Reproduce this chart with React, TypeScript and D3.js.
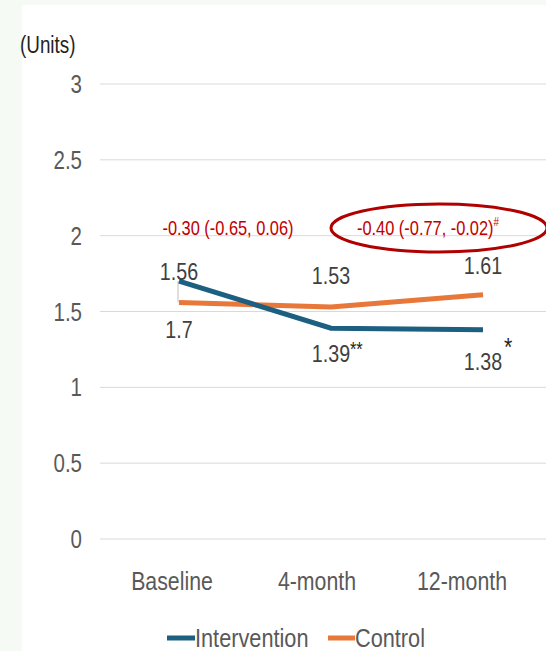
import { scalePoint, scaleLinear, line } from "d3";
import type { ReactNode } from "react";

const categories = ["Baseline", "4-month", "12-month"];
const intervention = [1.7, 1.39, 1.38];
const control = [1.56, 1.53, 1.61];
const yTicks = [0, 0.5, 1, 1.5, 2, 2.5, 3];
// labels as printed on the original figure
const interventionLabels = ["1.7", "1.39", "1.38"];
const interventionMarks = ["", "**", "*"];
const controlLabels = ["1.56", "1.53", "1.61"];
const diffLabels = ["-0.30 (-0.65, 0.06)", "-0.40 (-0.77, -0.02)"];
const diffMarks = ["", "#"];

const W = 546;
const H = 651;
const font = "'Liberation Sans', Arial, sans-serif";
const blue = "#1d5f80";
const orange = "#e8773a";
const red = "#c00000";
const grey = "#595959";
const squeeze = 0.82;

// narrow text: Liberation Sans squeezed horizontally
const T = (p: {
  x: number;
  y: number;
  size: number;
  fill?: string;
  anchor?: "start" | "middle" | "end";
  children: ReactNode;
}) => (
  <text
    transform={`translate(${p.x},${p.y}) scale(${squeeze},1)`}
    textAnchor={p.anchor ?? "start"}
    fontSize={p.size}
    fill={p.fill ?? grey}
  >
    {p.children}
  </text>
);

export default function App() {
  const y = scaleLinear().domain([0, 3]).range([539, 84]);
  const x = scalePoint<string>().domain(categories).range([179, 483]);
  const xLab = scalePoint<string>().domain(categories).range([172, 462]);
  const diffX = scalePoint<number>().domain([0, 1]).range([228, 428]);

  const path = line<number>()
    .x((_, i) => x(categories[i])!)
    .y((d) => y(d));

  return (
    <svg
      width={W}
      height={H}
      style={{ position: "absolute", left: 0, top: 0, fontFamily: font }}
    >
      <rect width={W} height={H} fill="#f5faf5" />
      <rect x={22} y={5} width={W - 22} height={H - 5} fill="#fff" />

      <T x={20} y={53} size={23} fill="#222">
        (Units)
      </T>

      {yTicks.map((t) => (
        <g key={t}>
          <line x1={100} x2={W} y1={y(t)} y2={y(t)} stroke="#d9d9d9" strokeWidth={1} />
          <T x={82} y={y(t) + 9} size={25} anchor="end">
            {t}
          </T>
        </g>
      ))}

      {categories.map((c) => (
        <T key={c} x={xLab(c)!} y={590} size={26} anchor="middle">
          {c}
        </T>
      ))}

      {/* leader line at baseline */}
      <line
        x1={x(categories[0])! - 1}
        x2={x(categories[0])! - 1}
        y1={y(intervention[0])}
        y2={y(control[0])}
        stroke="#bfbfbf"
        strokeWidth={1}
      />

      <path d={path(control)!} fill="none" stroke={orange} strokeWidth={5} />
      <path d={path(intervention)!} fill="none" stroke={blue} strokeWidth={5} />

      {controlLabels.map((l, i) => (
        <T
          key={"c" + i}
          x={x(categories[i])!}
          y={i === 2 ? 274 : i === 0 ? 280 : 284}
          size={24}
          fill="#404040"
          anchor="middle"
        >
          {l}
        </T>
      ))}

      {interventionLabels.map((l, i) => (
        <g key={"i" + i}>
          <T
            x={x(categories[i])!}
            y={i === 0 ? 338 : i === 1 ? 362 : 370}
            size={24}
            fill="#404040"
            anchor="middle"
          >
            {l}
          </T>
          {interventionMarks[i] && (
            <T
              x={x(categories[i])! + (i === 1 ? 19 : 21)}
              y={i === 1 ? 356 : 356}
              size={i === 1 ? 20 : 26}
              fill="#222"
            >
              {interventionMarks[i]}
            </T>
          )}
        </g>
      ))}

      {diffLabels.map((l, i) => (
        <T key={"d" + i} x={diffX(i)!} y={235} size={20} fill={red} anchor="middle">
          {l}
          {diffMarks[i] && (
            <tspan fontSize={12} dy={-9}>
              {diffMarks[i]}
            </tspan>
          )}
        </T>
      ))}

      <ellipse
        cx={diffX(1)! + 11}
        cy={228}
        rx={108}
        ry={24}
        fill="none"
        stroke="#b00000"
        strokeWidth={3}
      />

      <g>
        <line x1={167} x2={195} y1={638} y2={638} stroke={blue} strokeWidth={5} />
        <T x={195} y={647} size={26.5}>
          Intervention
        </T>
        <line x1={328} x2={355} y1={638} y2={638} stroke={orange} strokeWidth={5} />
        <T x={355} y={647} size={26.5}>
          Control
        </T>
      </g>
    </svg>
  );
}
